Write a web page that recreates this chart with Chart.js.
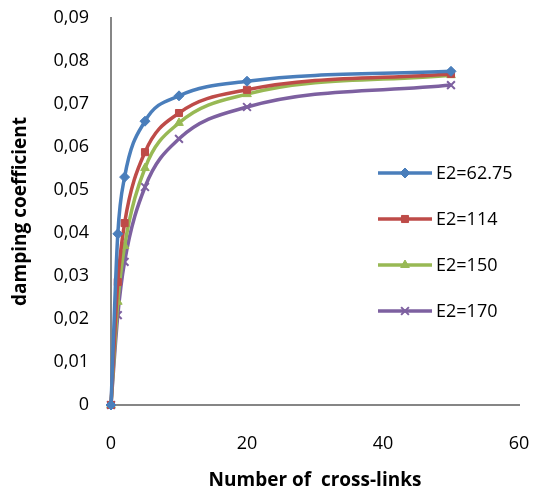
<!DOCTYPE html>
<html lang="en">
<head>
  <meta charset="utf-8">
  <title>damping coefficient</title>
  <style>
    html, body { margin: 0; padding: 0; background: #fff; }
  </style>
  <script src="https://cdn.jsdelivr.net/npm/chart.js"></script>
</head>
<body>
  <canvas id="lineChart" width="535" height="492"></canvas>
  <script>
    // values
    const crossLinks = [0, 1, 2, 5, 10, 20, 50];
    const seriesNames = ['E2=62.75', 'E2=114', 'E2=150', 'E2=170'];
    const e2_62 = [0, 0.0398, 0.0530, 0.0660, 0.0719, 0.0753, 0.0776];
    const e2_114 = [0, 0.0286, 0.0423, 0.0588, 0.0679, 0.0733, 0.0770];
    const e2_150 = [0, 0.0240, 0.0370, 0.0551, 0.0656, 0.0723, 0.0767];
    const e2_170 = [0, 0.0209, 0.0333, 0.0507, 0.0619, 0.0693, 0.0744];
    const xTicks = [0, 20, 40, 60];
    const yTicks = [0, 0.01, 0.02, 0.03, 0.04, 0.05, 0.06, 0.07, 0.08, 0.09];

    const colors = ['#4A7EBB', '#BE4B48', '#98B954', '#7D60A0'];
    const markers = ['rectRot', 'rect', 'triangle', 'crossRot'];
    const allValues = [e2_62, e2_114, e2_150, e2_170];

    const font = "'Open Sans', sans-serif";

    function toPoints(values) {
      return values.map((v, i) => ({ x: crossLinks[i], y: v }));
    }

    const datasets = allValues.map((values, i) => ({
      label: seriesNames[i],
      data: toPoints(values),
      borderColor: colors[i],
      backgroundColor: colors[i],
      borderWidth: 3.5,
      pointStyle: markers[i],
      pointRadius: markers[i] === 'crossRot' ? 5.5 : 5,
      pointBorderWidth: markers[i] === 'crossRot' ? 2 : 1,
      cubicInterpolationMode: 'monotone',
      clip: false
    }));

    // legend drawn inside the plot area, like the original
    const insideLegend = {
      id: 'insideLegend',
      afterDraw(chart) {
        const ctx = chart.ctx;
        ctx.save();
        chart.data.datasets.forEach((ds, i) => {
          const y = 173 + i * 46;
          ctx.strokeStyle = ds.borderColor;
          ctx.lineWidth = 3.5;
          ctx.beginPath();
          ctx.moveTo(378, y);
          ctx.lineTo(432, y);
          ctx.stroke();
          ctx.fillStyle = ds.backgroundColor;
          ctx.lineWidth = ds.pointBorderWidth;
          Chart.helpers.drawPoint(ctx, {
            pointStyle: ds.pointStyle,
            radius: ds.pointRadius,
            rotation: 0,
            borderWidth: ds.pointBorderWidth
          }, 405, y);
          ctx.fillStyle = '#000';
          ctx.font = '18px ' + font;
          ctx.textBaseline = 'middle';
          ctx.textAlign = 'left';
          ctx.fillText(ds.label, 436, y + 1);
        });
        ctx.restore();
      }
    };

    const ctx = document.getElementById('lineChart').getContext('2d');
    const lineChart = new Chart(ctx, {
      type: 'line',
      data: { datasets: datasets },
      options: {
        responsive: false,
        devicePixelRatio: 1,
        animation: false,
        layout: { padding: { left: 0, right: 16, top: 18, bottom: 0 } },
        plugins: {
          legend: { display: false },
          tooltip: { enabled: false }
        },
        scales: {
          x: {
            type: 'linear',
            min: 0,
            max: 60,
            afterBuildTicks(scale) {
              scale.ticks = xTicks.map(v => ({ value: v }));
            },
            afterFit(scale) {
              scale.height = 87;
              scale.paddingLeft = 0;
              scale.paddingRight = 0;
            },
            grid: { display: false, drawTicks: false },
            border: { color: '#868686', width: 2 },
            ticks: {
              color: '#000',
              padding: 28,
              font: { family: font, size: 18 }
            },
            title: {
              display: true,
              text: 'Number of  cross-links',
              color: '#000',
              font: { family: font, size: 19, weight: 'bold' },
              padding: { top: 0, bottom: 0 }
            }
          },
          y: {
            type: 'linear',
            min: 0,
            max: 0.09,
            afterBuildTicks(scale) {
              scale.ticks = yTicks.map(v => ({ value: v }));
            },
            afterFit(scale) {
              scale.width = 111;
              scale.paddingTop = 0;
              scale.paddingBottom = 0;
            },
            grid: { display: false, drawTicks: false },
            border: { color: '#868686', width: 2 },
            ticks: {
              color: '#000',
              padding: 22,
              font: { family: font, size: 18 },
              callback: v => v === 0 ? '0' : v.toFixed(2).replace('.', ',')
            },
            title: {
              display: true,
              text: 'damping coefficient',
              color: '#000',
              font: { family: font, size: 19, weight: 'bold' },
              padding: { top: 9, bottom: 0 }
            }
          }
        }
      },
      plugins: [insideLegend]
    });
  </script>
</body>
</html>
